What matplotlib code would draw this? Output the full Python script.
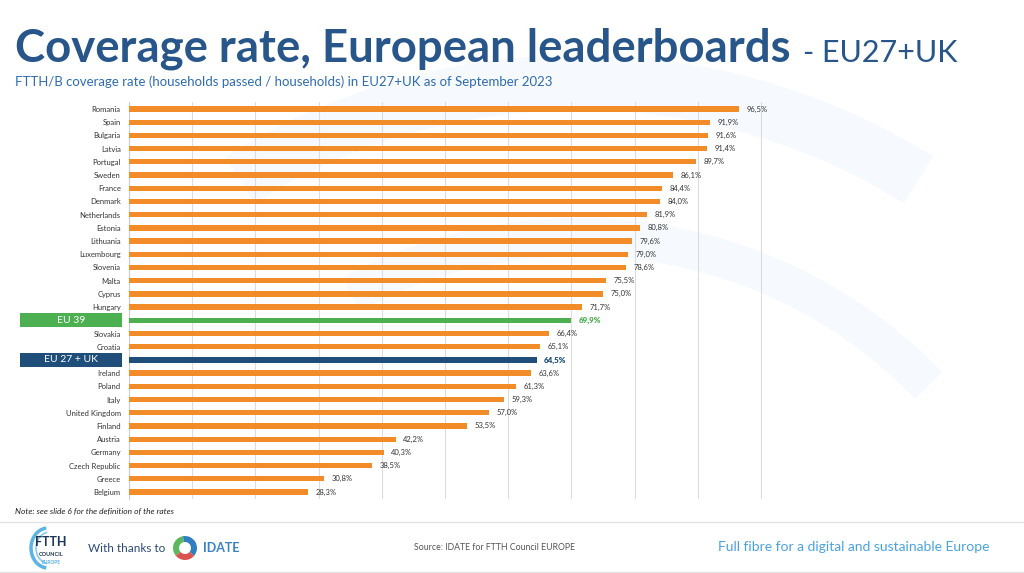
import matplotlib
matplotlib.use("Agg")
import matplotlib.pyplot as plt
from matplotlib.patches import Wedge, Rectangle, Arc

countries = ["Romania", "Spain", "Bulgaria", "Latvia", "Portugal", "Sweden", "France",
             "Denmark", "Netherlands", "Estonia", "Lithuania", "Luxembourg", "Slovenia",
             "Malta", "Cyprus", "Hungary", "EU 39", "Slovakia", "Croatia", "EU 27 + UK",
             "Ireland", "Poland", "Italy", "United Kingdom", "Finland", "Austria",
             "Germany", "Czech Republic", "Greece", "Belgium"]
rates = [96.5, 91.9, 91.6, 91.4, 89.7, 86.1, 84.4, 84.0, 81.9, 80.8, 79.6, 79.0, 78.6,
         75.5, 75.0, 71.7, 69.9, 66.4, 65.1, 64.5, 63.6, 61.3, 59.3, 57.0, 53.5, 42.2,
         40.3, 38.5, 30.8, 28.3]

orange = "#f28c28"
green = "#4caf50"
navy = "#1f4e7a"
titleblue = "#28568a"
lightblue = "#4aa3df"

plt.rcParams["font.family"] = ["Lato", "DejaVu Sans"]

fig = plt.figure(figsize=(10.24, 5.73), dpi=100)

# background decoration (pixel coords, y up)
bg = fig.add_axes([0, 0, 1, 1])
bg.set_xlim(0, 1024)
bg.set_ylim(0, 573)
bg.axis("off")
bg.add_patch(Wedge((579, -150), 668, 58, 122, width=55, color="#f6f9fd", lw=0))
bg.add_patch(Wedge((579, -150), 505, 44, 118, width=38, color="#f6f9fd", lw=0))

# titles
fig.text(15, 573 - 62, "Coverage rate, European leaderboards", transform=None,
         fontsize=32.8, fontweight="bold", color=titleblue, va="baseline")
fig.text(803, 573 - 62, "- EU27+UK", transform=None, fontsize=22,
         color=titleblue, va="baseline")
fig.text(15, 573 - 86, "FTTH/B coverage rate (households passed / households) in EU27+UK as of September 2023",
         transform=None, fontsize=9.5, color="#2f6db0", va="baseline")

# chart (x range 0-101 so the 100% gridline is not clipped)
ax = fig.add_axes([129 / 1024, 1 - 498.6 / 573, 638.3 / 1024, 396.2 / 573])
ax.patch.set_alpha(0)
ypos = list(range(len(countries)))
colors = []
for c in countries:
    if c == "EU 39":
        colors.append(green)
    elif c == "EU 27 + UK":
        colors.append(navy)
    else:
        colors.append(orange)
ax.barh(ypos, rates, height=0.4, color=colors, zorder=3)
ax.set_xlim(0, 101)
ax.set_ylim(len(countries) - 0.5, -0.5)
ax.set_xticks(range(0, 101, 10))
ax.xaxis.grid(True, color="#dcdcdc", lw=0.8, zorder=0)
ax.tick_params(axis="x", length=0, labelbottom=False)
ax.tick_params(axis="y", length=0, labelsize=5.5, labelcolor="#333333", pad=6)
ax.set_yticks(ypos)
ax.set_yticklabels(countries)
for s in ["top", "right", "bottom"]:
    ax.spines[s].set_visible(False)
ax.spines["left"].set_color("#cccccc")

for i, (c, v) in enumerate(zip(countries, rates)):
    lab = f"{v:.1f}%".replace(".", ",")
    if c == "EU 39":
        ax.text(v + 1.2, i, lab, va="center", fontsize=5.8, color=green, fontweight="heavy")
    elif c == "EU 27 + UK":
        ax.text(v + 1.2, i, lab, va="center", fontsize=5.8, color=navy, fontweight="heavy")
    else:
        ax.text(v + 1.2, i, lab, va="center", fontsize=5.5, color="#333333")

# highlighted category boxes
for lbl in ax.get_yticklabels():
    if lbl.get_text() in ("EU 39", "EU 27 + UK"):
        lbl.set_visible(False)
for c, col in (("EU 39", green), ("EU 27 + UK", navy)):
    i = countries.index(c)
    yc = 109 + i * 13.2
    bg.add_patch(Rectangle((20, 573 - yc - 7), 102, 14, color=col, lw=0))
    bg.text(71, 573 - yc, c, color="white", fontsize=7.5, ha="center", va="center")

fig.text(15, 573 - 513, "Note: see slide 6 for the definition of the rates", transform=None,
         fontsize=6, style="italic", color="#222222", va="baseline")

# footer
bg.plot([0, 1024], [573 - 522, 573 - 522], color="#e3e3e3", lw=1)
bg.plot([0, 1024], [1, 1], color="#e3e3e3", lw=1)
bg.add_patch(Arc((48, 25), 34, 40, theta1=95, theta2=265, color="#5bb4e5", lw=2.5))
bg.add_patch(Arc((50, 25), 28, 32, theta1=100, theta2=260, color="#8ccbee", lw=1.2))
bg.text(51, 31, "FTTH", fontsize=9, fontweight="bold", color="#1d3557", ha="center", va="center")
bg.text(51, 18, "COUNCIL", fontsize=4, fontweight="bold", color="#1d3557", ha="center", va="center")
bg.text(51, 11, "EUROPE", fontsize=3.5, fontweight="bold", color="#5bb4e5", ha="center", va="center")
bg.text(88, 25, "With thanks to", fontsize=8.5, color="#2b4a78", va="center")
bg.add_patch(Wedge((185, 25), 12, 100, 220, width=6, color="#5cb85c", lw=0))
bg.add_patch(Wedge((185, 25), 12, -40, 100, width=6, color="#2f7fc1", lw=0))
bg.add_patch(Wedge((185, 25), 12, 220, 320, width=6, color="#d9534f", lw=0))
bg.text(203, 25, "IDATE", fontsize=9, fontweight="bold", color="#3b82c4", va="center")
bg.text(495, 26, "Source: IDATE for FTTH Council EUROPE", fontsize=6.3, color="#555555",
        ha="center", va="center")
bg.text(990, 26, "Full fibre for a digital and sustainable Europe", fontsize=10,
        color=lightblue, ha="right", va="center")

fig.savefig("out.png", dpi=100)
